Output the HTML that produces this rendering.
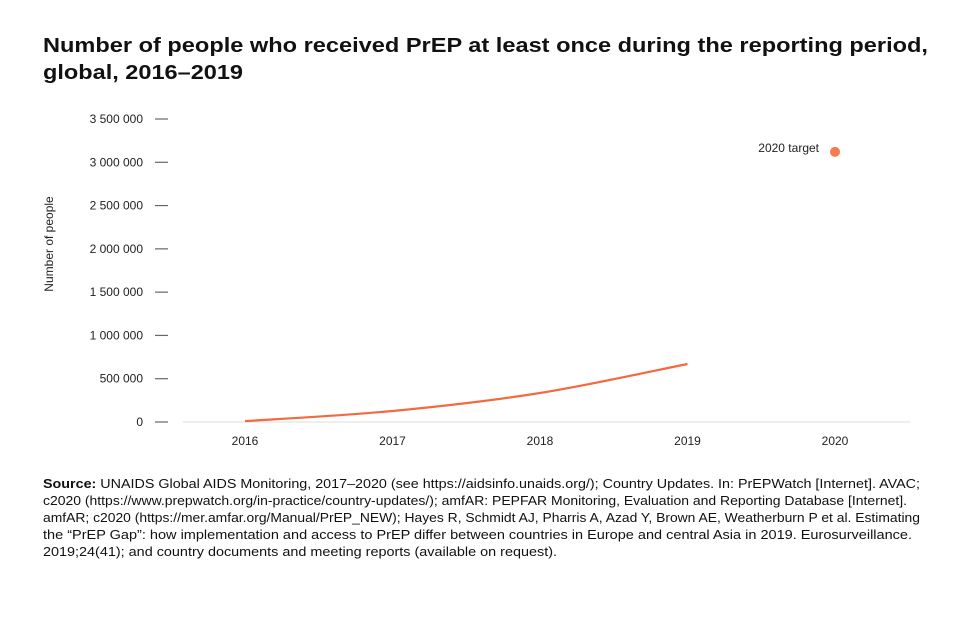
<!DOCTYPE html>
<html><head><meta charset="utf-8"><style>
html,body{margin:0;padding:0;background:#fff;}
svg{display:block;font-family:"Liberation Sans",sans-serif;}
</style></head><body>
<svg id="chart" width="960" height="618" viewBox="0 0 960 618">
<text x="43" y="52" font-size="20" font-weight="bold" fill="#111" textLength="885" lengthAdjust="spacingAndGlyphs">Number of people who received PrEP at least once during the reporting period,</text>
<text x="43" y="79" font-size="20" font-weight="bold" fill="#111" textLength="200" lengthAdjust="spacingAndGlyphs">global, 2016–2019</text>
<text transform="translate(53,244) rotate(-90)" text-anchor="middle" font-size="12" fill="#222">Number of people</text>
<g id="yaxis"></g>
<g id="xaxis"></g>
<line x1="183" y1="422" x2="910" y2="422" stroke="#ddd" stroke-width="1"/>
<g id="marks"></g>
<g font-size="12.6" fill="#111">
<text x="43" y="488" textLength="877" lengthAdjust="spacingAndGlyphs"><tspan font-weight="bold">Source:</tspan> UNAIDS Global AIDS Monitoring, 2017–2020 (see https://aidsinfo.unaids.org/); Country Updates. In: PrEPWatch [Internet]. AVAC;</text>
<text x="43" y="505" textLength="864" lengthAdjust="spacingAndGlyphs">c2020 (https://www.prepwatch.org/in-practice/country-updates/); amfAR: PEPFAR Monitoring, Evaluation and Reporting Database [Internet].</text>
<text x="43" y="522" textLength="877" lengthAdjust="spacingAndGlyphs">amfAR; c2020 (https://mer.amfar.org/Manual/PrEP_NEW); Hayes R, Schmidt AJ, Pharris A, Azad Y, Brown AE, Weatherburn P et al. Estimating</text>
<text x="43" y="539" textLength="869" lengthAdjust="spacingAndGlyphs">the “PrEP Gap”: how implementation and access to PrEP differ between countries in Europe and central Asia in 2019. Eurosurveillance.</text>
<text x="43" y="556" textLength="514" lengthAdjust="spacingAndGlyphs">2019;24(41); and country documents and meeting reports (available on request).</text>
</g>
</svg>
<script>
const years = ["2016","2017","2018","2019","2020"];
const lineYears = ["2016","2017","2018","2019"];
const peopleValues = [10000, 127000, 335000, 670000];
const targetValue = 3120000;
const targetLabel = "2020 target";
const yTicks = [0, 500000, 1000000, 1500000, 2000000, 2500000, 3000000, 3500000];
const yTickLabels = ["0","500 000","1 000 000","1 500 000","2 000 000","2 500 000","3 000 000","3 500 000"];

const NS = "http://www.w3.org/2000/svg";
function xScale(yr){ return 245 + years.indexOf(yr) * 147.5; }
function yScale(v){ return 422 - v / 3500000 * 303; }
function mk(tag, attrs, parent){ const e=document.createElementNS(NS,tag); for(const k in attrs) e.setAttribute(k,attrs[k]); parent.appendChild(e); return e; }

const ya=document.getElementById('yaxis');
yTicks.forEach((t,i)=>{
  const y=yScale(t);
  const tx=mk('text',{x:143,y:y+4,'text-anchor':'end','font-size':12,fill:'#222'},ya);
  tx.textContent=yTickLabels[i];
  
  
  const ln=mk('line',{x1:155,x2:168,y1:y,y2:y,stroke:'#666','stroke-width':1.2},ya);
  
  
});
const xa=document.getElementById('xaxis');
years.forEach(yr=>{
  const tx=mk('text',{x:xScale(yr),y:445,'text-anchor':'middle','font-size':12,fill:'#222'},xa);
  tx.textContent=yr;
  
  
});
const m=document.getElementById('marks');
const pts=lineYears.map((yr,i)=>[xScale(yr),yScale(peopleValues[i])]);
let d='M'+pts[0][0]+','+pts[0][1];
for(let i=0;i<pts.length-1;i++){
  const p0=pts[Math.max(0,i-1)],p1=pts[i],p2=pts[i+1],p3=pts[Math.min(pts.length-1,i+2)];
  const c1=[p1[0]+(p2[0]-p0[0])/6,p1[1]+(p2[1]-p0[1])/6];
  const c2=[p2[0]-(p3[0]-p1[0])/6,p2[1]-(p3[1]-p1[1])/6];
  d+=' C'+c1+' '+c2+' '+p2;
}
const path=mk('path',{d:d,fill:'none',stroke:'#f26a3d','stroke-width':2.2},m);


const dot=mk('circle',{cx:xScale("2020"),cy:yScale(targetValue),r:5,fill:'#f47c4e'},m);


const lbl=mk('text',{x:xScale("2020")-16,y:yScale(targetValue)-0,'text-anchor':'end','font-size':12,fill:'#222'},m);
lbl.textContent=targetLabel;


</script>
</body></html>
